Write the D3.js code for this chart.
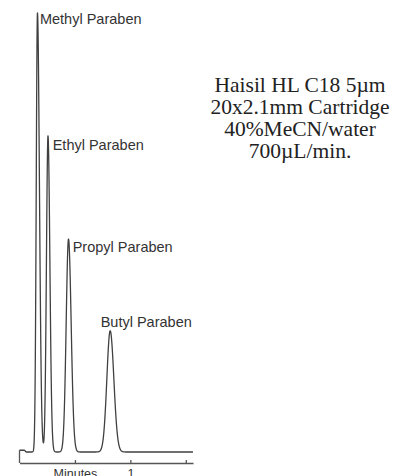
<!DOCTYPE html>
<html>
<head>
<meta charset="utf-8">
<script src="https://cdn.jsdelivr.net/npm/d3@7"></script>
<style>
  html, body { margin: 0; padding: 0; background: #fff; }
  svg { display: block; }
</style>
</head>
<body>
<svg id="chart" width="400" height="476"></svg>
<script>
// ---- data ----
const peakNames      = ["Methyl Paraben", "Ethyl Paraben", "Propyl Paraben", "Butyl Paraben"];
const retentionTimes = [0.162, 0.257, 0.442, 0.818];   // minutes
const peakHeights    = [100, 72, 48.5, 27.6];          // relative response
const sigmaLeft      = [0.011, 0.014, 0.021, 0.030];   // minutes
const sigmaRight     = [0.018, 0.017, 0.024, 0.033];   // minutes
const baselineTimes  = [0, 0.045, 0.06, 0.08, 1.565];
const baselineValues = [0.4, 0.4, 0.0, 0.0, 0.0];
const tickValues     = [0.5, 1, 1.5];
const tickLabels     = ["Minutes", "1", ""];
const conditions     = ["Haisil HL C18 5µm", "20x2.1mm Cartridge", "40%MeCN/water", "700µL/min."];

// ---- layout ----
const svg = d3.select("#chart");
const axisY = 463;
const x = d3.scaleLinear().domain([0, 1.565]).range([19.5, 193]);
const y = d3.scaleLinear().domain([0, 100]).range([452, 13]);
const baseline = d3.scaleLinear().domain(baselineTimes).range(baselineValues).clamp(true);

function signal(t) {
  let s = baseline(t);
  for (let i = 0; i < retentionTimes.length; i++) {
    const d = t - retentionTimes[i];
    const sg = d < 0 ? sigmaLeft[i] : sigmaRight[i];
    s += peakHeights[i] * Math.exp(-(d * d) / (2 * sg * sg));
  }
  return s;
}

const samples = d3.range(0, 1.565 + 1e-9, 0.0004).map(t => [t, signal(t)]);

// trace
svg.append("path")
  .datum(samples)
  .attr("fill", "none")
  .attr("stroke", "#404040")
  .attr("stroke-width", 1.3)
  .attr("stroke-linejoin", "round")
  .attr("d", d3.line().x(d => x(d[0])).y(d => y(d[1])));

// x axis (ticks point upward)
const axis = d3.axisBottom(x)
  .tickValues(tickValues)
  .tickFormat((d, i) => tickLabels[i])
  .tickSizeInner(-3)
  .tickSizeOuter(0)
  .tickPadding(6);

const gAxis = svg.append("g")
  .attr("transform", `translate(0,${axisY})`)
  .call(axis);
gAxis.select(".domain").attr("stroke", "#555").attr("stroke-width", 1.3);
gAxis.selectAll(".tick line").attr("stroke", "#555").attr("stroke-width", 1.3);
gAxis.selectAll(".tick text")
  .attr("font-family", "Liberation Sans, Arial, sans-serif")
  .attr("font-size", 12.5)
  .attr("fill", "#333")
  .attr("dy", "0.71em");

// left end of axis joins the trace start
svg.append("line")
  .attr("x1", x(0)).attr("x2", x(0))
  .attr("y1", axisY).attr("y2", y(signal(0)))
  .attr("stroke", "#555").attr("stroke-width", 1.3);

// peak labels
const labelDx = [2.5, 4.7, 4.2, -9.5];
const labelDy = [11, 14, 12.5, -3.5];
svg.selectAll("text.peak")
  .data(peakNames)
  .join("text")
  .attr("class", "peak")
  .attr("x", (d, i) => x(retentionTimes[i]) + labelDx[i])
  .attr("y", (d, i) => y(peakHeights[i]) + labelDy[i])
  .attr("font-family", "Liberation Sans, Arial, sans-serif")
  .attr("font-size", 14.5)
  .attr("fill", "#333")
  .text(d => d);

// conditions block
svg.selectAll("text.cond")
  .data(conditions)
  .join("text")
  .attr("class", "cond")
  .attr("x", 300)
  .attr("y", (d, i) => 92 + i * 22)
  .attr("text-anchor", "middle")
  .attr("font-family", "Liberation Serif, Times New Roman, serif")
  .attr("font-size", 21.5)
  .attr("fill", "#222")
  .text(d => d);
</script>
</body>
</html>
